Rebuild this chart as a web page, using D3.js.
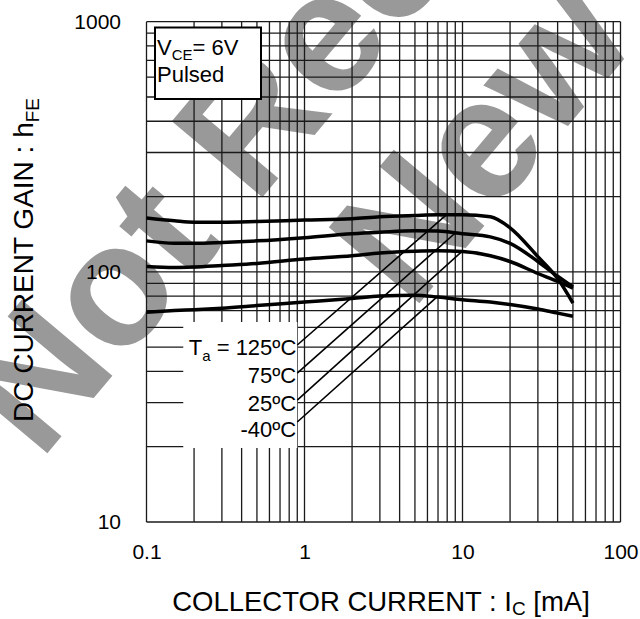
<!DOCTYPE html>
<html>
<head>
<meta charset="utf-8">
<script src="https://cdn.jsdelivr.net/npm/d3@7"></script>
<style>
  body { margin: 0; background: #fff; }
  svg { display: block; font-family: "Liberation Sans", Arial, sans-serif; }
</style>
</head>
<body>
<div id="chart"></div>
<script>
// DC current gain vs collector current, VCE = 6V pulsed

var currents = [0.1, 0.15, 0.2, 0.3, 0.5, 1, 2, 3, 5, 7, 10, 15, 20, 30, 40, 50];

var gain125 = [164, 160, 158, 158, 159, 161, 163, 166, 168, 169, 169, 166, 150, 115, 94, 75];
var gain75  = [133, 130, 130, 131, 133, 137, 142, 144, 146, 145.5, 142, 138, 130, 110, 96, 87];
var gain25  = [105, 104, 104.5, 106, 108, 112.5, 116, 119, 121, 121.5, 120.5, 116, 110, 98.5, 91.5, 86];
var gainM40 = [69, 70, 70.6, 71.6, 73.3, 75.7, 78.2, 80, 80.7, 79.3, 77.4, 75.7, 74, 71, 68.4, 66.5];

var tempLabels = ["125ºC", "75ºC", "25ºC", "-40ºC"];
var leaderStartCurrent = 0.9;
var leaderStartGain = [51, 39.4, 30.7, 25.1];
var leaderEndCurrent = [7.9, 9.0, 9.9, 6.9];

var xTicks = [0.1, 1, 10, 100];
var yTicks = [10, 100, 1000];

function drawChart() {

    var width = 640;
    var height = 619;
    var left = 146.5, right = 620.5, top = 21.7, bottom = 522;

    var series = [gain125, gain75, gain25, gainM40];

    var x = d3.scaleLog().domain([0.1, 100]).range([left, right]);
    var y = d3.scaleLog().domain([10, 1000]).range([bottom, top]);

    var svg = d3.select("#chart")
                .append("svg")
                .attr("width", width)
                .attr("height", height);

    // watermark, sits under the grid
    var wm = svg.append("g")
                .attr("fill", "#999")
                .attr("font-weight", "bold")
                .attr("font-size", 172);
    wm.append("text")
        .attr("transform", "translate(40,462) rotate(-50)")
        .text("Not Rec");
    wm.append("text")
        .attr("transform", "translate(412,312) rotate(-50)")
        .text("New");

    // grid lines 1..9 per decade
    var gridX = [], gridY = [];
    [0.1, 1, 10].forEach(function(d) {
        for (var i = 1; i < 10; i++) gridX.push(d * i);
    });
    gridX.push(100);
    [10, 100].forEach(function(d) {
        for (var i = 1; i < 10; i++) gridY.push(d * i);
    });
    gridY.push(1000);

    var grid = svg.append("g")
                  .attr("stroke", "#1a1a1a")
                  .attr("stroke-width", 1.3);

    grid.selectAll("line.gx")
        .data(gridX)
        .enter()
        .append("line")
        .attr("class", "gx")
        .attr("x1", function(d) { return x(d); })
        .attr("x2", function(d) { return x(d); })
        .attr("y1", top)
        .attr("y2", bottom);

    grid.selectAll("line.gy")
        .data(gridY)
        .enter()
        .append("line")
        .attr("class", "gy")
        .attr("y1", function(d) { return y(d); })
        .attr("y2", function(d) { return y(d); })
        .attr("x1", left)
        .attr("x2", right);

    // axes (labels only)
    var yAxis = d3.axisLeft(y)
                  .tickValues(yTicks)
                  .tickFormat(d3.format("d"))
                  .tickSize(0)
                  .tickPadding(25.5);
    var gy = svg.append("g")
                .attr("transform", "translate(" + left + ",0)")
                .call(yAxis);

    var xAxis = d3.axisBottom(x)
                  .tickValues(xTicks)
                  .tickFormat(function(d) { return d < 1 ? "0.1" : d3.format("d")(d); })
                  .tickSize(0)
                  .tickPadding(22);
    var gx = svg.append("g")
                .attr("transform", "translate(0," + bottom + ")")
                .call(xAxis);

    [gx, gy].forEach(function(g) {
        g.select(".domain").remove();
        g.selectAll("text")
         .attr("fill", "#000")
         .style("font-size", "21px")
         .style("font-family", "'Liberation Sans', Arial, sans-serif");
    });

    // axis titles
    var xt = svg.append("text")
                .attr("x", 381)
                .attr("y", 611)
                .attr("text-anchor", "middle")
                .attr("font-size", 27.5);
    xt.append("tspan").text("COLLECTOR CURRENT : I");
    xt.append("tspan").attr("font-size", 19).attr("dy", 4).text("C");
    xt.append("tspan").attr("dy", -4).text(" [mA]");

    var yt = svg.append("text")
                .attr("transform", "translate(33,260) rotate(-90)")
                .attr("text-anchor", "middle")
                .attr("font-size", 28);
    yt.append("tspan").text("DC CURRENT GAIN : h");
    yt.append("tspan").attr("font-size", 19).attr("dy", 6).text("FE");

    // VCE box
    svg.append("rect")
        .attr("x", 155)
        .attr("y", 27.5)
        .attr("width", 106)
        .attr("height", 71.5)
        .attr("fill", "#fff")
        .attr("stroke", "#000")
        .attr("stroke-width", 2);
    var vt = svg.append("text")
                .attr("x", 157)
                .attr("y", 55)
                .attr("font-size", 22);
    vt.append("tspan").text("V");
    vt.append("tspan").attr("font-size", 15).attr("dy", 5).text("CE");
    vt.append("tspan").attr("dy", -5).text("= 6V");
    svg.append("text")
        .attr("x", 157)
        .attr("y", 81.5)
        .attr("font-size", 22)
        .text("Pulsed");

    // temperature label block
    var lx = x(leaderStartCurrent);
    svg.append("rect")
        .attr("x", lx - 114)
        .attr("y", 322)
        .attr("width", 114)
        .attr("height", 126)
        .attr("fill", "#fff");

    var baseOffset = [10, 10, 11, 15];
    var labels = svg.append("g").attr("font-size", 22).attr("text-anchor", "end");
    labels.selectAll("text")
        .data(tempLabels)
        .enter()
        .append("text")
        .attr("x", lx - 1)
        .attr("y", function(d, i) { return y(leaderStartGain[i]) + baseOffset[i]; })
        .text(function(d, i) { return i == 0 ? null : d; });

    var first = labels.select("text");
    first.append("tspan").text("T");
    first.append("tspan").attr("font-size", 15).attr("dy", 6).text("a");
    first.append("tspan").attr("dy", -6).text(" = " + tempLabels[0]);

    // gain at a given current, log-log interpolation on a series
    function gainAt(s, c) {
        var lc = Math.log10(c);
        for (var i = 0; i < currents.length - 1; i++) {
            var a = Math.log10(currents[i]), b = Math.log10(currents[i + 1]);
            if (lc >= a && lc <= b) {
                var t = (lc - a) / (b - a);
                return Math.pow(10, Math.log10(s[i]) + t * (Math.log10(s[i + 1]) - Math.log10(s[i])));
            }
        }
        return s[s.length - 1];
    }

    svg.append("g")
        .selectAll("line")
        .data(tempLabels)
        .enter()
        .append("line")
        .attr("x1", lx)
        .attr("y1", function(d, i) { return y(leaderStartGain[i]); })
        .attr("x2", function(d, i) { return x(leaderEndCurrent[i]); })
        .attr("y2", function(d, i) { return y(gainAt(series[i], leaderEndCurrent[i])); })
        .attr("stroke", "#000")
        .attr("stroke-width", 1.6);

    // curves
    var line = d3.line()
                 .x(function(d) { return x(d[0]); })
                 .y(function(d) { return y(d[1]); })
                 .curve(d3.curveMonotoneX);

    svg.append("g")
        .selectAll("path")
        .data(series)
        .enter()
        .append("path")
        .attr("d", function(s) {
            return line(currents.map(function(c, i) { return [c, s[i]]; }));
        })
        .attr("fill", "none")
        .attr("stroke", "#000")
        .attr("stroke-width", 3.5);
}

drawChart();
</script>
</body>
</html>
